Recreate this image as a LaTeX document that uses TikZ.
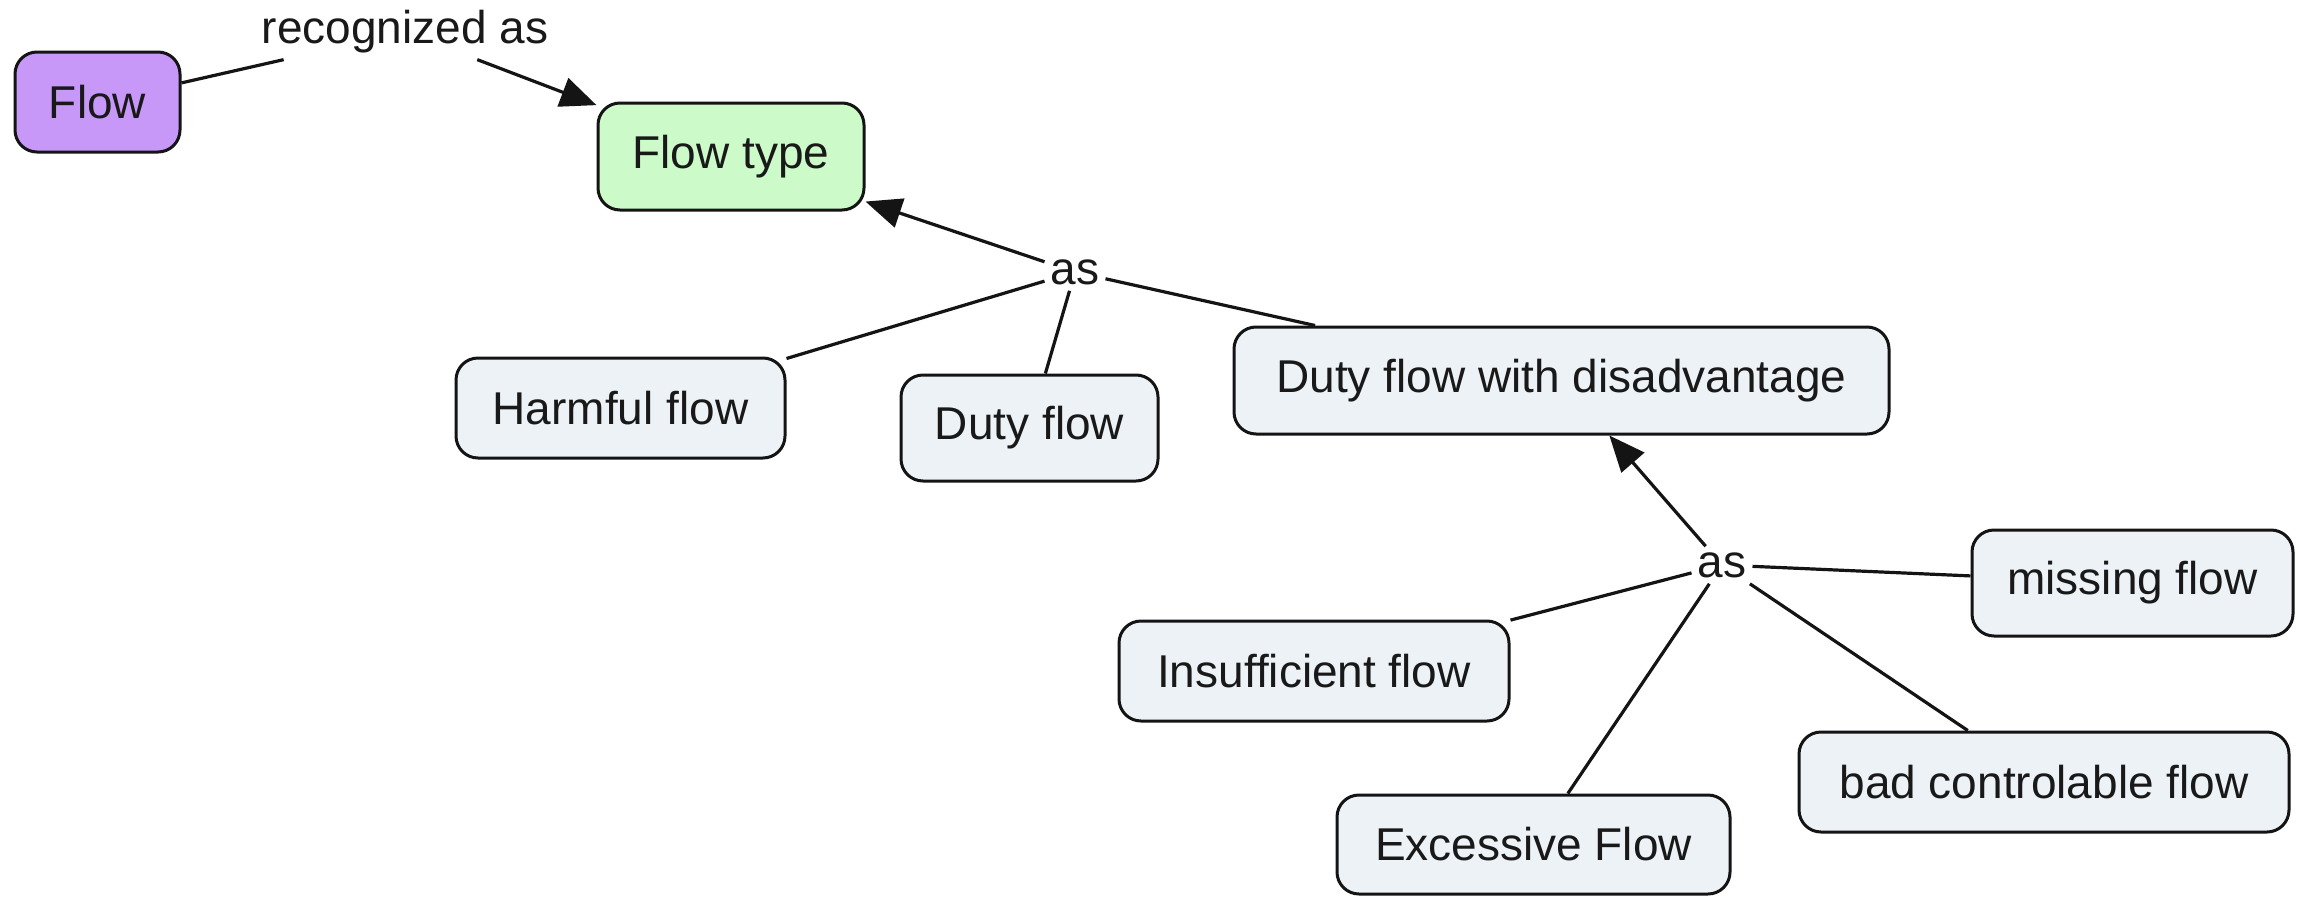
\documentclass[tikz,border=0pt]{standalone}
\usepackage{fontspec}
\setmainfont{Liberation Sans}
\usetikzlibrary{arrows.meta}
\definecolor{flowpurple}{RGB}{200,152,248}
\definecolor{typegreen}{RGB}{204,250,200}
\definecolor{boxgray}{RGB}{236,242,245}
\definecolor{edgecol}{RGB}{20,20,20}
\begin{document}
\begin{tikzpicture}[x=1pt,y=-1pt,
  concept/.style={draw=edgecol, line width=3pt, rounded corners=22pt, fill=boxgray,
    inner sep=0pt, font=\fontsize{46}{55}\selectfont, text=black!90},
  linklabel/.style={inner sep=6pt, font=\fontsize{46}{55}\selectfont, text=black!90},
  conn/.style={draw=edgecol, line width=3.2pt},
  arr/.style={conn, -{Triangle[length=36pt,width=30pt]}}]
\useasboundingbox (0,0) rectangle (2308,897);
% concepts
\node[concept, fill=flowpurple, minimum width=165pt, minimum height=100pt] (flow) at (97.5,102) {Flow};
\node[concept, fill=typegreen, minimum width=266pt, minimum height=107pt] (flowtype) at (731,156.5) {Flow type};
\node[concept, minimum width=329pt, minimum height=100pt] (harmful) at (620.5,408) {Harmful flow};
\node[concept, minimum width=257pt, minimum height=106pt] (duty) at (1029.5,428) {Duty flow};
\node[concept, minimum width=655pt, minimum height=107pt] (dfwd) at (1561.5,380.5) {Duty flow with disadvantage};
\node[concept, minimum width=321pt, minimum height=106pt] (missing) at (2132.5,583) {missing flow};
\node[concept, minimum width=390pt, minimum height=100pt] (insuff) at (1314,671) {Insufficient flow};
\node[concept, minimum width=393pt, minimum height=99pt] (excess) at (1533.5,844.5) {Excessive Flow};
\node[concept, minimum width=490pt, minimum height=100pt] (bad) at (2044,782) {bad controlable flow};
% linking phrases
\node[linklabel] (rec) at (405,32) {recognized as};
\node[linklabel] (as1) at (1075,272) {as};
\node[linklabel] (as2) at (1722,565) {as};
% connectors
\draw[conn] (flow) -- (rec);
\draw[arr] (rec) -- (flowtype);
\draw[conn] (harmful) -- (as1);
\draw[conn] (duty) -- (as1);
\draw[conn] (dfwd) -- (as1);
\draw[arr] (as1) -- (flowtype);
\draw[conn] (insuff) -- (as2);
\draw[conn] (excess) -- (as2);
\draw[conn] (bad) -- (as2);
\draw[conn] (missing) -- (as2);
\draw[arr] (as2) -- (dfwd);
\end{tikzpicture}
\end{document}
